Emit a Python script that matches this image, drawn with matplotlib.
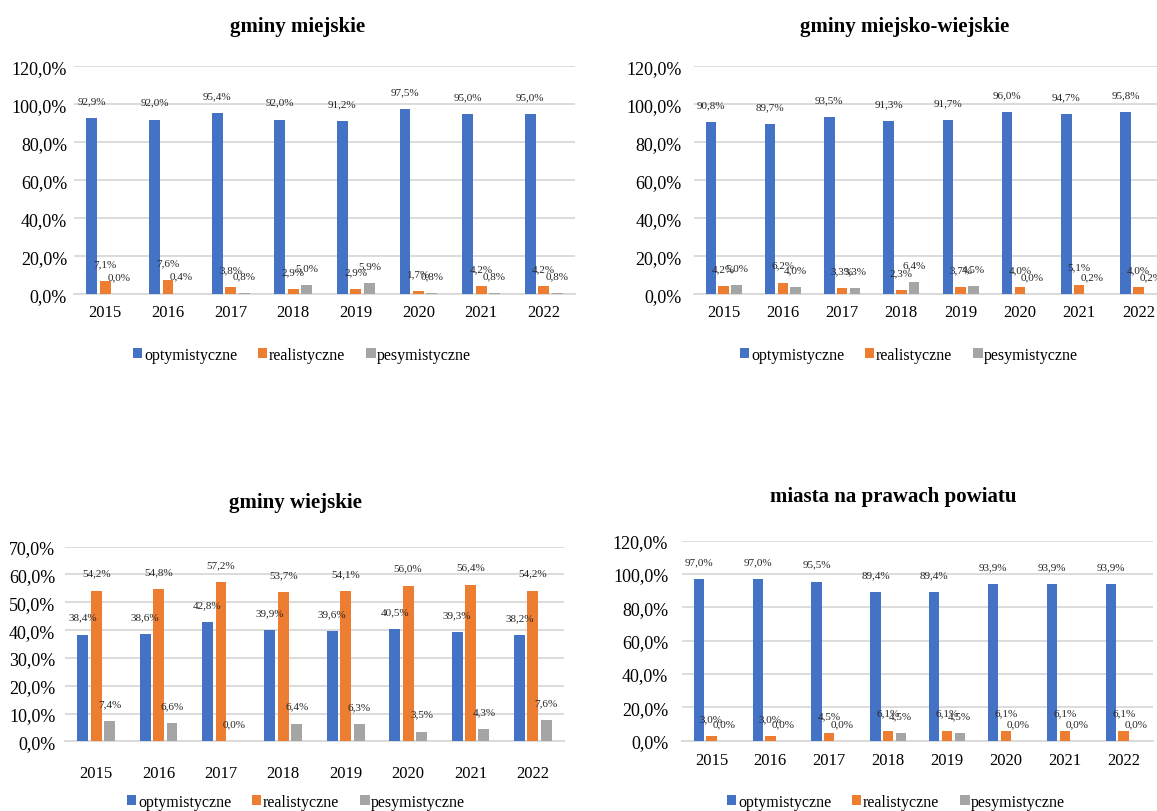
import matplotlib
matplotlib.use("Agg")
import matplotlib.pyplot as plt
from matplotlib.ticker import FuncFormatter, MultipleLocator
import numpy as np

plt.rcParams['font.family'] = ['Liberation Serif', 'DejaVu Serif']

years = ["2015", "2016", "2017", "2018", "2019", "2020", "2021", "2022"]
series_names = ["optymistyczne", "realistyczne", "pesymistyczne"]
colors = ["#4472C4", "#ED7D31", "#A5A5A5"]

# gminy miejskie
miejskie_opt = [92.9, 92.0, 95.4, 92.0, 91.2, 97.5, 95.0, 95.0]
miejskie_real = [7.1, 7.6, 3.8, 2.9, 2.9, 1.7, 4.2, 4.2]
miejskie_pes = [0.0, 0.4, 0.8, 5.0, 5.9, 0.8, 0.8, 0.8]

# gminy miejsko-wiejskie
mw_opt = [90.8, 89.7, 93.5, 91.3, 91.7, 96.0, 94.7, 95.8]
mw_real = [4.2, 6.2, 3.3, 2.3, 3.7, 4.0, 5.1, 4.0]
mw_pes = [5.0, 4.0, 3.3, 6.4, 4.5, 0.0, 0.2, 0.2]

# gminy wiejskie
wiejskie_opt = [38.4, 38.6, 42.8, 39.9, 39.6, 40.5, 39.3, 38.2]
wiejskie_real = [54.2, 54.8, 57.2, 53.7, 54.1, 56.0, 56.4, 54.2]
wiejskie_pes = [7.4, 6.6, 0.0, 6.4, 6.3, 3.5, 4.3, 7.6]

# miasta na prawach powiatu
mpp_opt = [97.0, 97.0, 95.5, 89.4, 89.4, 93.9, 93.9, 93.9]
mpp_real = [3.0, 3.0, 4.5, 6.1, 6.1, 6.1, 6.1, 6.1]
mpp_pes = [0.0, 0.0, 0.0, 4.5, 4.5, 0.0, 0.0, 0.0]


def pct(v, pos=None):
    return "{0:.1f}%".format(v).replace(".", ",")


def draw_panel(fig, rect, title, title_xy, legend_xy, data, ymax, ystep, ylabel_pad, xlabel_pad):
    ax = fig.add_axes(rect)
    x = np.arange(len(years))
    width = 0.175
    step = 0.215
    handles = []
    for i, values in enumerate(data):
        bars = ax.bar(x + (i - 1) * step, values, width, color=colors[i], zorder=3)
        handles.append(bars)
        # value labels above every bar, same as the spreadsheet data labels
        for xi, v in zip(x + (i - 1) * step, values):
            ax.annotate(pct(v), (xi, v), xytext=(0, 12.5), textcoords="offset points",
                        ha="center", va="center", fontsize=8, color="#262626",
                        annotation_clip=False, zorder=4)

    ax.set_xlim(-0.5, len(years) - 0.5)
    ax.set_ylim(0, ymax)
    ax.yaxis.set_major_locator(MultipleLocator(ystep))
    ax.yaxis.set_major_formatter(FuncFormatter(pct))
    ax.set_xticks(x)
    ax.set_xticklabels(years)
    ax.tick_params(axis="y", length=0, labelsize=13, pad=ylabel_pad)
    ax.tick_params(axis="x", length=0, labelsize=12, pad=xlabel_pad)
    ax.grid(axis="y", color="#D9D9D9", lw=1.3, zorder=0)
    for side in ["top", "right", "left"]:
        ax.spines[side].set_visible(False)
    ax.spines["bottom"].set_color("#D9D9D9")
    ax.spines["bottom"].set_linewidth(1.3)

    fig.text(title_xy[0], title_xy[1], title, ha="center", va="center",
             fontsize=15, fontweight="bold")
    fig.legend(handles, series_names, loc="center", bbox_to_anchor=legend_xy, ncol=3,
               frameon=False, fontsize=11.5, handlelength=0.6, handleheight=0.6,
               handletextpad=0.1, columnspacing=1.3, borderaxespad=0)
    return ax


fig = plt.figure(figsize=(11.57, 8.12), dpi=100)

draw_panel(fig, [0.0640, 0.6363, 0.4330, 0.2808], "gminy miejskie", (0.2576, 0.9667),
           (0.261, 0.5616), [miejskie_opt, miejskie_real, miejskie_pes], 120, 20, 5, 7)
draw_panel(fig, [0.5998, 0.6363, 0.4097, 0.2808], "gminy miejsko-wiejskie", (0.7822, 0.9667),
           (0.7857, 0.5616), [mw_opt, mw_real, mw_pes], 120, 20, 9, 7)
draw_panel(fig, [0.0562, 0.0858, 0.4313, 0.2397], "gminy wiejskie", (0.255, 0.3805),
           (0.2558, 0.0111), [wiejskie_opt, wiejskie_real, wiejskie_pes], 70, 10, 7, 17)
draw_panel(fig, [0.5895, 0.0866, 0.4071, 0.2463], "miasta na prawach powiatu", (0.7718, 0.3879),
           (0.7744, 0.0111), [mpp_opt, mpp_real, mpp_pes], 120, 20, 10, 8)

fig.savefig("out.png", dpi=100)
